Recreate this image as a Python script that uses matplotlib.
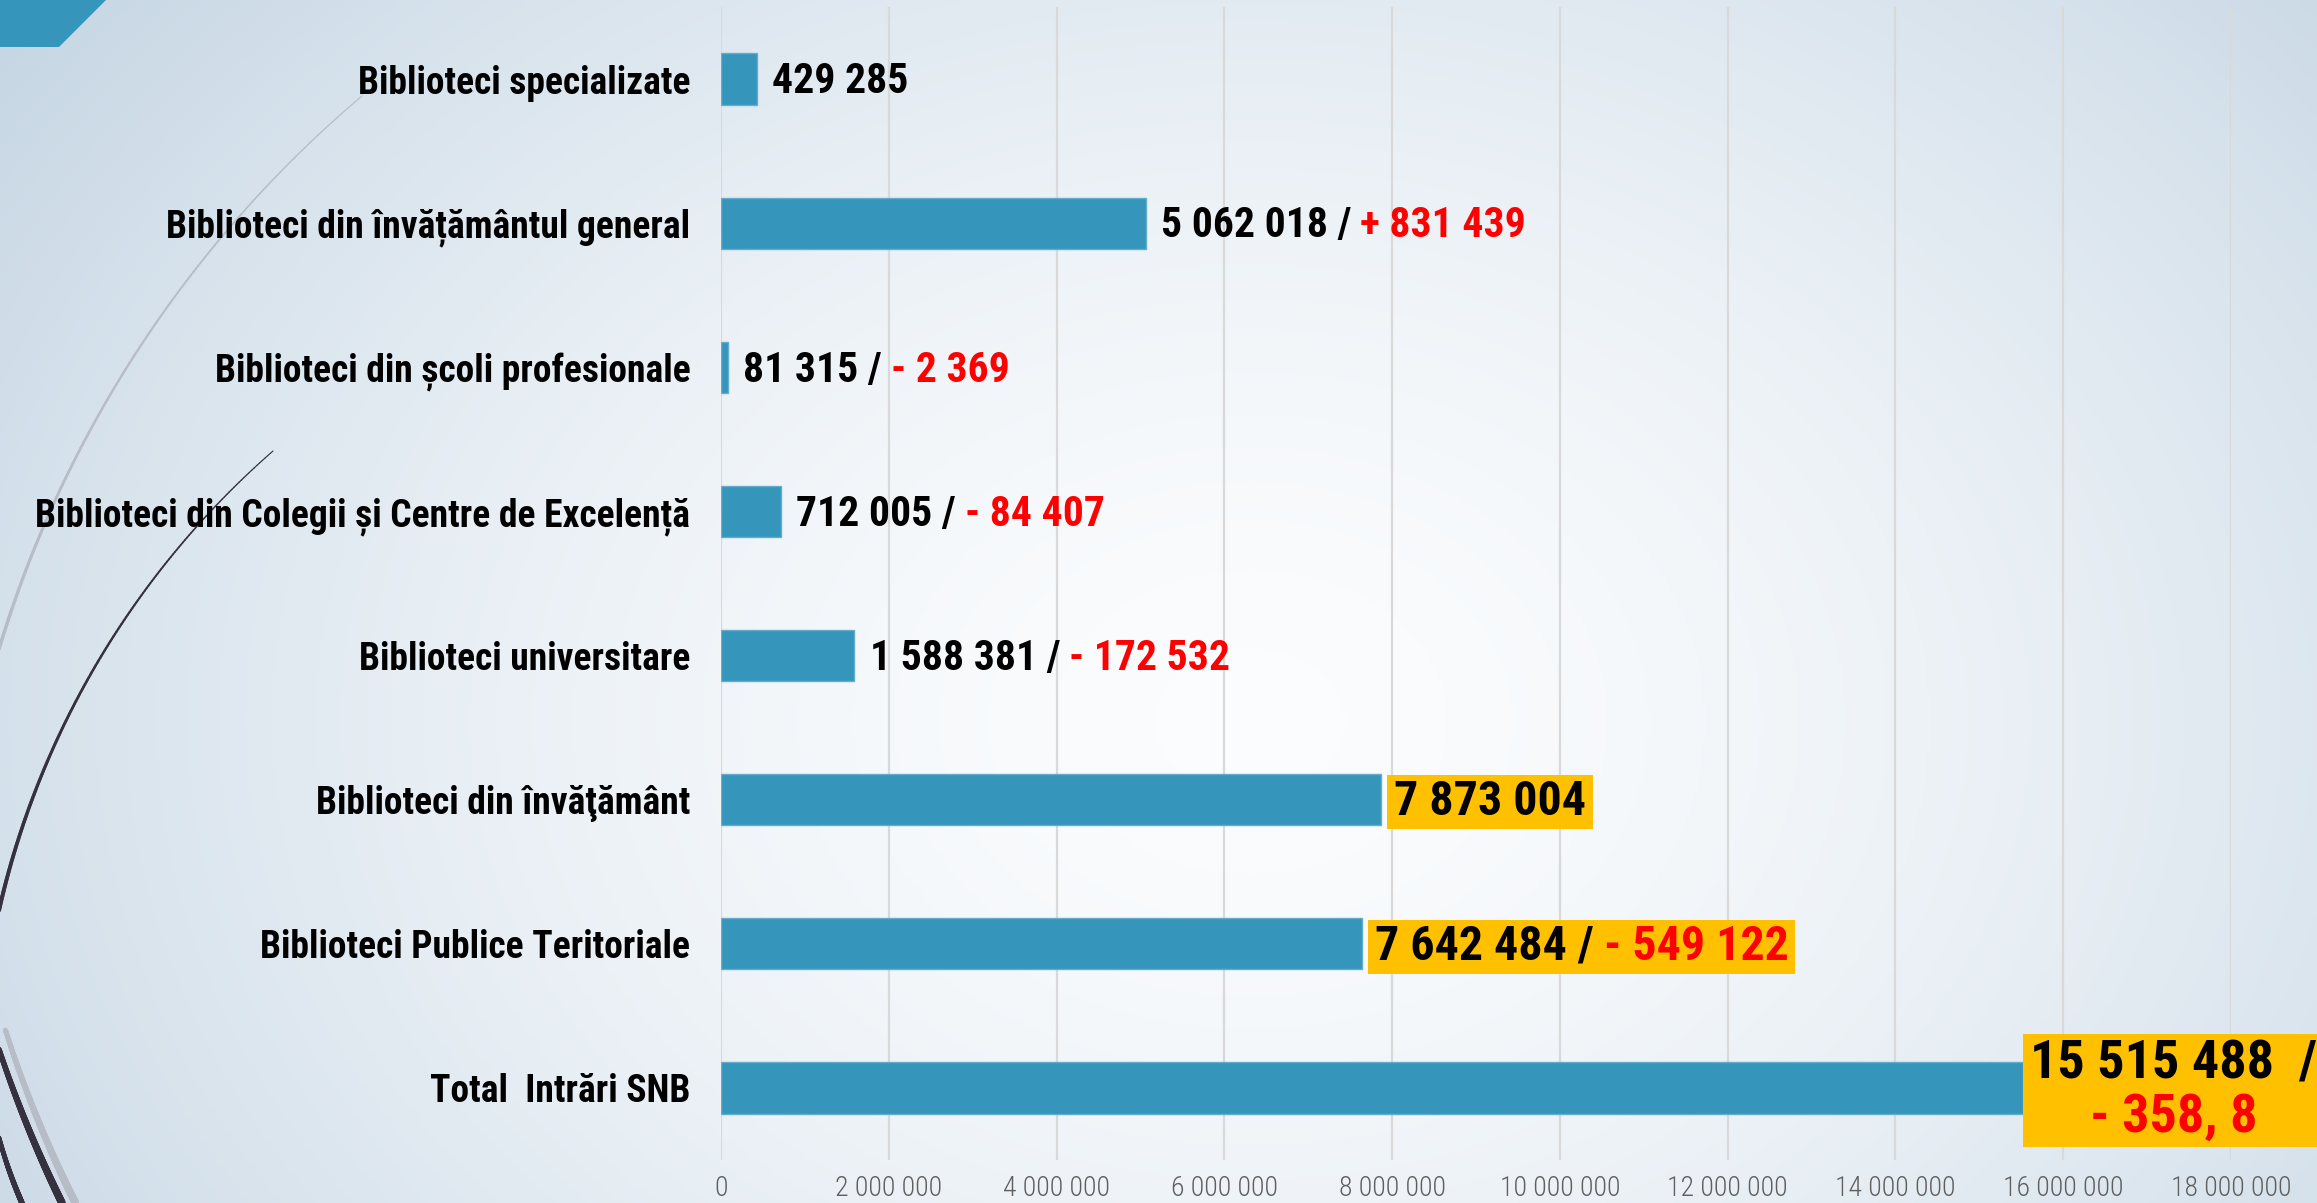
import numpy as np
import matplotlib.pyplot as plt
from matplotlib import font_manager
from matplotlib.collections import LineCollection
from matplotlib.patches import Polygon
from matplotlib.ticker import FuncFormatter
from matplotlib.offsetbox import TextArea, HPacker, VPacker, AnnotationBbox, DrawingArea

# data, top to bottom as in the slide
categories = ["Biblioteci specializate",
              "Biblioteci din învățământul general",
              "Biblioteci din școli profesionale",
              "Biblioteci din Colegii și Centre de Excelență",
              "Biblioteci universitare",
              "Biblioteci din învăţământ",
              "Biblioteci Publice Teritoriale",
              "Total  Intrări SNB"]
values = [429285, 5062018, 81315, 712005, 1588381, 7873004, 7642484, 15515488]
changes = ["", "+ 831 439", "- 2 369", "- 84 407", "- 172 532", "", "- 549 122", "- 358, 8"]
highlighted = [False, False, False, False, False, True, True, True]

W, H = 2317, 1203
BAR = '#3595BB'
BOX = '#FFC000'
RED = '#FF0000'

# look for a narrow sans; otherwise shrink an Arial-metric font to the same widths
fonts = font_manager.fontManager.ttflist
names = {f.name for f in fonts}
stretch = 'normal'
scale = 1.0
for cand in ['Roboto Condensed', 'Liberation Sans Narrow', 'Arial Narrow',
             'Open Sans Condensed', 'Noto Sans Condensed']:
    if cand in names:
        narrow = cand
        break
else:
    narrow, scale = 'Liberation Sans', 0.8

fig = plt.figure(figsize=(W / 100, H / 100), dpi=100)

# background: soft radial gradient + theme decorations (pixel coords)
bg = fig.add_axes([0, 0, 1, 1])
bg.set_xlim(0, W)
bg.set_ylim(H, 0)
bg.axis('off')
yy, xx = np.mgrid[0:H:4, 0:W:4]
d = np.sqrt(((xx - 1250) / 1300.0) ** 2 + ((yy - 720) / 1000.0) ** 2)
d = np.clip(d, 0, 1.2) / 1.2
c_in = np.array([0.985, 0.99, 0.995])
c_out = np.array([0.77, 0.835, 0.89])
img = c_in + (c_out - c_in) * (d[..., None] ** 1.6)
bg.imshow(img, extent=[0, W, H, 0], aspect='auto', zorder=0)

bg.add_patch(Polygon([(0, 0), (106, 0), (59, 47), (0, 47)], closed=True,
                     facecolor=BAR, edgecolor='none', zorder=1))


def circle3(p1, p2, p3):
    ax_, ay_ = p1
    bx, by = p2
    cx, cy = p3
    dd = 2 * (ax_ * (by - cy) + bx * (cy - ay_) + cx * (ay_ - by))
    ux = ((ax_**2 + ay_**2) * (by - cy) + (bx**2 + by**2) * (cy - ay_) + (cx**2 + cy**2) * (ay_ - by)) / dd
    uy = ((ax_**2 + ay_**2) * (cx - bx) + (bx**2 + by**2) * (ax_ - cx) + (cx**2 + cy**2) * (bx - ax_)) / dd
    return ux, uy, np.hypot(ax_ - ux, ay_ - uy)


def arc(c, y0, y1, w0, w1, color, dr=0):
    cx, cy, r = c
    r = r + dr
    ys = np.linspace(y0, y1, 200)
    xs = cx - np.sqrt(np.clip(r**2 - (ys - cy) ** 2, 0, None))
    pts = np.column_stack([xs, ys])
    segs = np.stack([pts[:-1], pts[1:]], axis=1)
    lc = LineCollection(segs, colors=color, linewidths=np.linspace(w0, w1, len(segs)),
                        capstyle='round', zorder=1)
    bg.add_collection(lc)


grey = circle3((362, 96), (168, 306), (15, 600))
arc(grey, 96, 700, 0.8, 2.6, '#B7BDC6')
thin = circle3((273, 451), (51, 753), (0, 906))
arc(thin, 451, 930, 0.8, 3.0, '#35313F')
thick = circle3((-4, 1040), (27, 1125), (62, 1203))
arc(thick, 1030, 1203, 3.5, 5.5, '#B7BDC6', dr=-12)
arc(thick, 1030, 1203, 3.5, 5.5, '#35313F')
inner = circle3((-3, 1130), (9, 1170), (22, 1203))
arc(inner, 1120, 1203, 3.0, 4.0, '#35313F')

# chart
ax = fig.add_axes([721 / W, 1 - 1160 / H, (2231 - 721) / W, (1160 - 7) / H])
ax.patch.set_alpha(0)
y = np.arange(len(categories))
ax.barh(y, values, height=0.355, color=BAR, edgecolor='#63ADCD', linewidth=1, zorder=3)
ax.set_xlim(0, 18_000_000)
ax.set_ylim(len(categories) - 0.5, -0.5)
ax.set_xticks(np.arange(0, 18_000_001, 2_000_000))
ax.xaxis.set_major_formatter(FuncFormatter(lambda v, p: f"{int(v):,}".replace(",", " ")))
ax.set_yticks(y)
ax.set_yticklabels(categories, fontsize=27 * scale, fontweight='bold', family=narrow,
                   fontstretch=stretch)
ax.tick_params(axis='y', length=0, pad=22)
ax.tick_params(axis='x', length=0, pad=11, labelsize=20 * scale, labelcolor='#5f5f5f')
for t in ax.get_xticklabels():
    t.set_family(narrow)
    t.set_fontweight('light')
ax.xaxis.grid(True, color='#D9D9D9', linewidth=1.6, zorder=0)
ax.set_axisbelow(True)
for s in ax.spines.values():
    s.set_visible(False)


def spaced(v):
    return f"{v:,}".replace(",", " ")


last = len(values) - 1
for i, (v, ch, hl) in enumerate(zip(values, changes, highlighted)):
    size = (39 if i == last else (34.5 if hl else 30)) * scale
    props_k = dict(color='black', fontsize=size, fontweight='bold', family=narrow,
                   fontstretch=stretch)
    props_r = dict(props_k, color=RED)
    if i == last:
        body = VPacker(children=[TextArea(spaced(v) + "  /", textprops=props_k),
                                 TextArea(ch, textprops=props_r)],
                       align='center', pad=0, sep=2)
    elif ch:
        body = HPacker(children=[TextArea(spaced(v) + " /", textprops=props_k),
                                 TextArea(ch, textprops=props_r)],
                       align='baseline', pad=0, sep=0.22 * size)
    else:
        body = TextArea(spaced(v), textprops=props_k)
    if hl:
        body = HPacker(children=[DrawingArea(2, 1), body, DrawingArea(2, 1)], pad=0, sep=0,
                       align='center')
    off = (3.4 if i == last else 7) if hl else 11
    ab = AnnotationBbox(body, (v, i), xybox=(off, -2), xycoords='data',
                        boxcoords='offset points', box_alignment=(0, 0.5),
                        frameon=hl, pad=0.29, annotation_clip=False,
                        bboxprops=dict(facecolor=BOX, edgecolor='none'))
    ab.set_zorder(5)
    ax.add_artist(ab)

fig.savefig('out.png', dpi=100)
